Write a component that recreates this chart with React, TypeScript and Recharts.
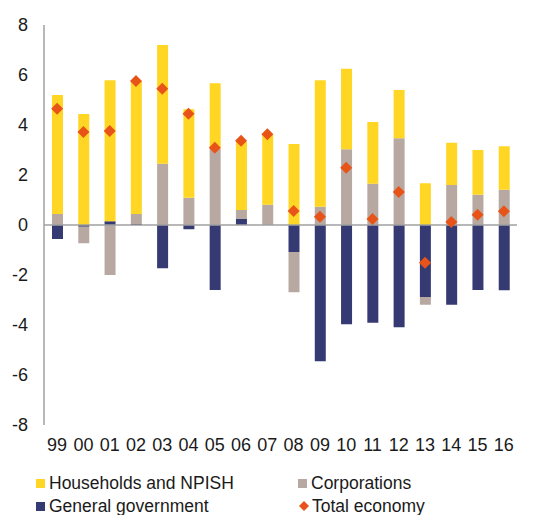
import { ComposedChart, Bar, Line, XAxis, YAxis, ReferenceLine } from 'recharts'

const years = ['99', '00', '01', '02', '03', '04', '05', '06', '07', '08', '09', '10', '11', '12', '13', '14', '15', '16']
const households = [4.76, 4.44, 5.64, 5.32, 4.75, 3.54, 2.63, 2.73, 2.82, 3.24, 5.06, 3.22, 2.47, 1.93, 1.67, 1.69, 1.79, 1.74]
const corporations = [0.44, -0.66, -2.0, 0.4, 2.45, 1.09, 3.04, 0.36, 0.81, -1.61, 0.73, 3.03, 1.65, 3.47, -0.31, 1.6, 1.21, 1.41]
const government = [-0.56, -0.07, 0.15, 0.04, -1.73, -0.17, -2.6, 0.24, 0, -1.08, -5.45, -3.97, -3.91, -4.09, -2.88, -3.19, -2.6, -2.61]
const total = [4.65, 3.72, 3.76, 5.76, 5.45, 4.45, 3.09, 3.37, 3.63, 0.56, 0.33, 2.29, 0.24, 1.32, -1.51, 0.12, 0.41, 0.55]
const yTicks = [-8, -6, -4, -2, 0, 2, 4, 6, 8]

const YELLOW = '#FFD623'
const GREY = '#B7A9A2'
const NAVY = '#353A72'
const ORANGE = '#E85418'
const AXIS = '#A0A0A0'
const FONT = '"Liberation Sans", Arial, sans-serif'

const data = years.map((y, i) => ({
  year: y,
  households: households[i],
  corporations: corporations[i],
  government: government[i],
  total: total[i],
}))

function Diamond(props: any) {
  const { cx, cy } = props
  if (cx == null || cy == null) return null
  const r = 6
  return (
    <polygon
      points={`${cx},${cy - r} ${cx + r},${cy} ${cx},${cy + r} ${cx - r},${cy}`}
      fill={ORANGE}
    />
  )
}

const legendItems = [
  { label: 'Households and NPISH', color: YELLOW, kind: 'square', left: 36, top: 473 },
  { label: 'Corporations', color: GREY, kind: 'square', left: 298, top: 473 },
  { label: 'General government', color: NAVY, kind: 'square', left: 36, top: 496 },
  { label: 'Total economy', color: ORANGE, kind: 'diamond', left: 298, top: 496 },
]

export default function App() {
  return (
    <div style={{ position: 'absolute', left: 0, top: 0, width: 538, height: 515, fontFamily: FONT, background: '#fff' }}>
      <ComposedChart
        width={538}
        height={515}
        data={data}
        stackOffset="sign"
        margin={{ top: 25, right: 21, bottom: 60, left: 0 }}
      >
        <XAxis
          dataKey="year"
          axisLine={false}
          tickLine={false}
          height={30}
          tickMargin={7}
          interval={0}
          tick={{ fill: '#1a1a1a', fontSize: 18, fontFamily: FONT }}
        />
        <YAxis
          domain={[-8, 8]}
          ticks={yTicks}
          width={44}
          axisLine={{ stroke: AXIS, strokeWidth: 1.5 }}
          tickLine={false}
          tickMargin={10}
          tick={{ fill: '#1a1a1a', fontSize: 18, fontFamily: FONT }}
        />
        <Bar dataKey="government" stackId="a" fill={NAVY} barSize={11} isAnimationActive={false} />
        <Bar dataKey="corporations" stackId="a" fill={GREY} barSize={11} isAnimationActive={false} />
        <Bar dataKey="households" stackId="a" fill={YELLOW} barSize={11} isAnimationActive={false} />
        <ReferenceLine y={0} stroke={AXIS} strokeWidth={1.5} />
        <Line
          dataKey="total"
          stroke="none"
          dot={<Diamond />}
          activeDot={false}
          isAnimationActive={false}
        />
      </ComposedChart>
      {legendItems.map((it) => (
        <div
          key={it.label}
          style={{
            position: 'absolute',
            left: it.left,
            top: it.top,
            display: 'flex',
            alignItems: 'center',
            fontSize: 17.5,
            color: '#1a1a1a',
            lineHeight: '20px',
            whiteSpace: 'nowrap',
          }}
        >
          {it.kind === 'square' ? (
            <span style={{ display: 'inline-block', width: 9, height: 9, background: it.color, marginRight: 4 }} />
          ) : (
            <svg width={13} height={13} style={{ marginRight: 1 }}>
              <polygon points="6,1 11,6 6,11 1,6" fill={it.color} />
            </svg>
          )}
          {it.label}
        </div>
      ))}
    </div>
  )
}
